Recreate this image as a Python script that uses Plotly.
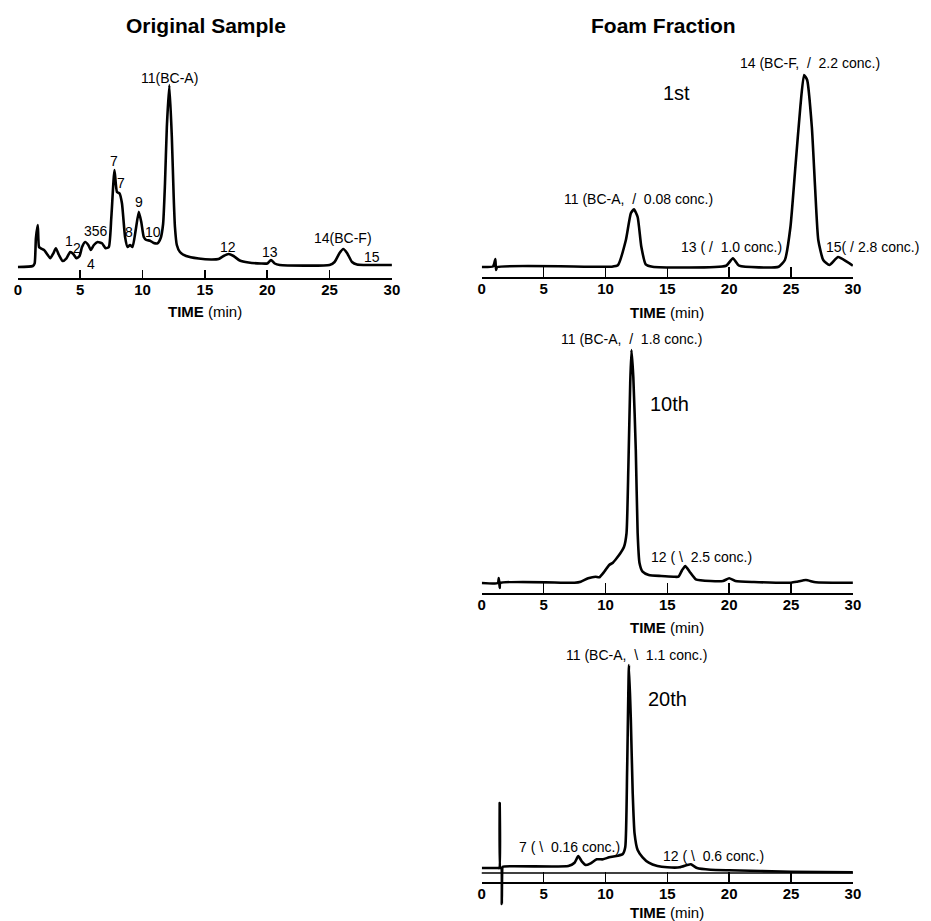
import plotly.graph_objects as go

# ---------------- data ----------------
tick_vals = [0, 5, 10, 15, 20, 25, 30]

orig_time = [0, 1.2, 1.35, 1.45, 1.6, 1.7, 1.85, 2.1, 2.4, 2.6, 2.85, 3.05, 3.3, 3.6, 3.9, 4.2, 4.45,
             4.7, 4.95, 5.15, 5.4, 5.65, 5.85, 6.1, 6.4, 6.75, 7.05, 7.3, 7.5, 7.75, 7.95, 8.15,
             8.35, 8.6, 8.8, 9.0, 9.2, 9.45, 9.7, 9.9, 10.1, 10.3, 10.6, 10.9, 11.2, 11.45, 11.65,
             11.8, 11.95, 12.15, 12.35, 12.5, 12.6, 12.75, 13.0, 13.5, 14.5, 15.5, 16.1, 16.5,
             16.9, 17.3, 17.8, 18.5, 19.5, 20.0, 20.3, 20.6, 21.0, 25.0, 25.4, 25.8, 26.1, 26.4,
             26.8, 27.2, 30.0]
orig_signal = [0, 1, 3.7, 28.7, 42, 20, 18.7, 17, 12, 8.7, 13.7, 18.7, 12, 6, 8.7, 15, 13,
               8.7, 11, 20, 25, 22, 17, 22, 25, 23.7, 18.7, 20, 50, 97, 75, 73.7,
               63.7, 30, 20, 22, 20, 36.7, 55.3, 45, 30, 27, 26.3, 24, 23.7, 28.7, 43,
               83, 140, 182, 130, 70, 40, 22, 15, 11, 8.5, 7.5, 8, 11,
               13, 11, 6.5, 4.5, 3.5, 3.5, 7, 3.5, 2, 2, 5, 14, 18, 14,
               5, 2.5, 2]

foam1_time = [0, 0.9, 1.0, 1.1, 1.15, 1.25, 10.5, 11.0, 11.65, 12.05, 12.3, 12.6, 12.9, 13.25,
              13.8, 19.75, 20.3, 20.8, 24.0, 24.5, 24.95, 25.35, 25.75, 26.05, 26.3, 26.68,
              26.94, 27.2, 27.6, 28.1, 28.8, 29.5, 30.0]
foam1_signal = [0, 0.5, 3, 8, -3, 0, 0.3, 1.7, 27, 53.7, 57.7, 50, 20, 2.7,
                0.3, 1.3, 8.7, 1.3, 0.3, 7, 40, 100, 160, 192, 187, 140,
                80, 27, 7, 2, 10, 5.3, 1.3]

foam10_time = [0, 1.3, 1.38, 1.45, 1.5, 7.5, 8.0, 8.6, 9.2, 9.5, 9.9, 10.3, 10.6, 10.9, 11.2,
               11.5, 11.7, 11.85, 12.0, 12.1, 12.25, 12.45, 12.6, 12.75, 13.0, 13.5, 14.5, 15.5,
               15.9, 16.2, 16.45, 16.8, 17.3, 18.5, 19.5, 20.0, 20.5, 22.0, 25.0, 25.5, 26.2,
               27.0, 30.0]
foam10_signal = [0, 0, 5, -5, 0, 0.3, 1.3, 4.7, 6.3, 5.7, 11.3, 18, 20.3, 24.7, 29.7,
                 36.3, 49.7, 116, 200, 233, 206, 133, 50, 20, 11.3, 8, 7, 6.3,
                 6.3, 13, 17, 11.3, 3.7, 2, 2, 4.7, 2, 1, 0.3, 1.3, 3,
                 0.7, 0.3]

foam20_time = [0, 1.3, 1.42, 1.45, 1.5, 1.58, 1.62, 1.66, 1.7, 7.0, 7.5, 7.8, 8.1, 8.4, 8.8,
               9.3, 9.8, 10.3, 11.0, 11.4, 11.6, 11.75, 11.9, 12.05, 12.2, 12.35, 12.6, 13.0,
               13.5, 14.2, 15.0, 16.0, 16.6, 16.9, 17.4, 18.5, 20.0, 25.0, 30.0]
foam20_signal = [0, 0, 0, 65, 0, 0, -36, 0, 1.3, 2, 5.3, 12, 6.3, 3, 4.7,
                 8.7, 8.7, 10.7, 12.3, 14, 21, 98, 203, 148, 75, 34.7, 18, 10.7,
                 5.3, 2, 0.7, 0.7, 3, 3.7, 0, -1.7, -2.3, -3.7, -4.3]

# ---------------- figure ----------------
W, H = 931, 921
FONT = "Liberation Sans, Arial, sans-serif"


def px(x):
    return x / W


def py(y):
    return 1 - y / H


fig = go.Figure()
series = [
    (orig_time, orig_signal, "x", "y", "Original Sample"),
    (foam1_time, foam1_signal, "x2", "y2", "1st"),
    (foam10_time, foam10_signal, "x3", "y3", "10th"),
    (foam20_time, foam20_signal, "x4", "y4", "20th"),
]
for t, s, xa, ya, name in series:
    fig.add_trace(go.Scatter(x=t, y=s, xaxis=xa, yaxis=ya, mode="lines", name=name,
                             line=dict(color="black", width=2.6, shape="spline", smoothing=0.5),
                             showlegend=False, hoverinfo="skip"))


def xaxis_cfg(dom, anchor, ticklen, position=None):
    d = dict(domain=dom, anchor=anchor, range=[0, 30], tickvals=tick_vals,
             ticks="inside", ticklen=ticklen, tickwidth=1.6, tickcolor="black",
             showline=True, linewidth=2, linecolor="black", showgrid=False, zeroline=False,
             tickfont=dict(family=FONT, size=15, color="black", weight="bold"),
             ticklabelstandoff=-3,
             fixedrange=True)
    if position is not None:
        d["position"] = position
    return d


def yaxis_cfg(dom, anchor, rng):
    return dict(domain=dom, anchor=anchor, range=rng, visible=False, showgrid=False,
                zeroline=False, fixedrange=True)


left_dom = [px(14), px(393)]
right_dom = [px(484), px(860)]

fig.update_layout(
    width=W, height=H, margin=dict(l=0, r=0, t=0, b=0),
    paper_bgcolor="white", plot_bgcolor="white",
    font=dict(family=FONT, color="black"),
    xaxis=xaxis_cfg(left_dom, "y", 8),
    yaxis=yaxis_cfg([py(278), py(78)], "x", [-11, 189]),
    xaxis2=xaxis_cfg(right_dom, "y2", 10),
    yaxis2=yaxis_cfg([py(277), py(70)], "x2", [-10, 197]),
    xaxis3=xaxis_cfg(right_dom, "y3", 10),
    yaxis3=yaxis_cfg([py(593), py(343)], "x3", [-10, 240]),
    xaxis4=xaxis_cfg(right_dom, "free", 10, position=py(883)),
    yaxis4=yaxis_cfg([py(912), py(662)], "x4", [-44, 206]),
)

# top line of the tick strip on the 20th chromatogram
fig.add_shape(type="line", xref="x4 domain", yref="paper", x0=0, x1=1,
              y0=py(873), y1=py(873), line=dict(color="black", width=1.6))

# panel titles
for text, xc in [("Original Sample", 205), ("Foam Fraction", 668)]:
    fig.add_annotation(text=f"<b>{text}</b>", xref="paper", yref="paper", x=px(xc), y=py(25),
                       showarrow=False, font=dict(family=FONT, size=21, color="black"),
                       xanchor="center", yanchor="middle")

# axis titles (x-pixel centre, y-pixel centre)
for xc, yc in [(204, 312), (672, 313), (672, 627), (672, 912)]:
    fig.add_annotation(text="<b>TIME</b> (min)", xref="paper", yref="paper", x=px(xc), y=py(yc),
                       showarrow=False, font=dict(family=FONT, size=15, color="black"),
                       xanchor="center", yanchor="middle")

# peak labels: (text, x-pixel, y-pixel, font size)
peak_labels = [
    ("11(BC-A)", 168, 78, 14),
    ("7", 111, 161, 14),
    ("7", 119, 183, 14),
    ("9", 137, 202, 14),
    ("8", 127, 232, 14),
    ("10", 151, 232, 14),
    ("356", 93, 231, 14),
    ("1", 66, 241, 14),
    ("2", 74, 248, 14),
    ("4", 88, 264, 14),
    ("12", 227, 247, 14),
    ("13", 269, 252, 14),
    ("14(BC-F)", 343, 238, 14),
    ("15", 373, 257, 14),
    ("1st", 681, 93, 20),
    ("11 (BC-A,  /  0.08 conc.)", 643, 199, 14),
    ("13 ( /  1.0 conc.)", 737, 247, 14),
    ("14 (BC-F,  /  2.2 conc.)", 817, 63, 14),
    ("15( / 2.8 conc.)", 880, 247, 14),
    ("11 (BC-A,  /  1.8 conc.)", 636, 339, 14),
    ("10th", 674, 404, 20),
    ("12 ( \\  2.5 conc.)", 707, 557, 14),
    ("11 (BC-A,  \\  1.1 conc.)", 641, 655, 14),
    ("20th", 672, 699, 20),
    ("7 ( \\  0.16 conc.)", 573, 847, 14),
    ("12 ( \\  0.6 conc.)", 719, 856, 14),
]
for text, xp, yp, size in peak_labels:
    fig.add_annotation(text=text, xref="paper", yref="paper", x=px(xp), y=py(yp),
                       showarrow=False, xanchor="center", yanchor="middle",
                       font=dict(family=FONT, size=size, color="black"))

fig.write_html("out.html", config={"displayModeBar": False, "staticPlot": True},
               post_script="document.body.style.margin='0px';document.body.style.overflow='hidden';")
